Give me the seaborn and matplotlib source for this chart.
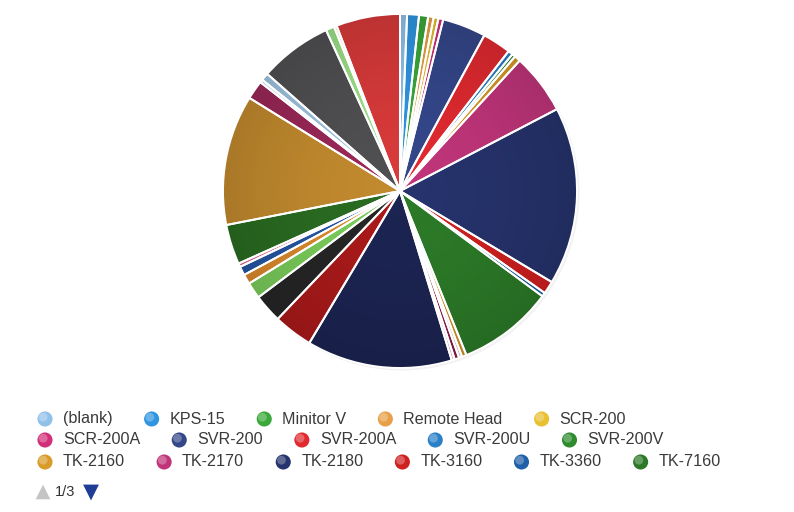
import numpy as np
import matplotlib
matplotlib.use("Agg")
import matplotlib.pyplot as plt
import seaborn as sns
from matplotlib.patches import Circle

# Model names (legend page 1 shows the first 16; the rest live on pages 2-3)
labels = [
    "(blank)", "KPS-15", "Minitor V", "Remote Head", "SCR-200",
    "SCR-200A", "SVR-200", "SVR-200A", "SVR-200U", "SVR-200V",
    "TK-2160", "TK-2170", "TK-2180", "TK-3160", "TK-3360", "TK-7160",
    "Model 17", "Model 18", "Model 19", "Model 20", "Model 21", "Model 22",
    "Model 23", "Model 24", "Model 25", "Model 26", "Model 27", "Model 28",
    "Model 29", "Model 30", "Model 31", "Model 32", "Model 33", "Model 34",
    "Model 35", "Model 36",
]

# Share of units per model (%)
shares = [
    0.64, 1.08, 0.83, 0.50, 0.44,
    0.44, 3.97, 2.61, 0.44, 0.31,
    0.56, 5.53, 16.25, 1.17, 0.36, 8.75,
    0.42, 0.28, 0.42, 0.28, 13.28, 3.58,
    2.61, 1.50, 0.89, 0.81, 0.33, 3.64,
    11.89, 1.72, 0.28, 0.69, 6.64, 0.78,
    0.25, 5.83,
]

colors = [
    "#8fc1e9", "#2f95e0", "#3aa83a", "#e8a048", "#e8c030",
    "#d0307a", "#34478a", "#e02a30", "#2a80c8", "#2e8b2e",
    "#d89a28", "#c0357a", "#26336c", "#d02020", "#2060a8", "#2c7a28",
    "#d4922e", "#d8d0c0", "#8e1e48", "#e8c8d8", "#1c2452", "#aa1a1a",
    "#262626", "#7acc5a", "#dc8a2c", "#2456a4", "#e070a0", "#2a6c22",
    "#c28a2e", "#9a2858", "#d4e2ee", "#9ec4e2", "#505052", "#9ce088",
    "#f2e2b0", "#d83a3a",
]

# Legend page 1 rows
legend_rows = [labels[0:5], labels[5:10], labels[10:16]]
page_text = "1/3"

sns.set_theme(style="white")
plt.rcParams["font.family"] = ["Liberation Sans", "DejaVu Sans"]

W, H = 794, 512
fig = plt.figure(figsize=(W / 100, H / 100), dpi=100)
fig.patch.set_facecolor("white")

# Pie axes: square, centred on the chart area
cx, cy, r = 400, 191, 177
pad = 1.04
side = 2 * r * pad
ax = fig.add_axes([(cx - side / 2) / W, (H - cy - side / 2) / H, side / W, side / H])
ax.set_xlim(-pad, pad)
ax.set_ylim(-pad, pad)
ax.set_aspect("equal")
ax.axis("off")

# faint shadow under the disc
ax.add_patch(Circle((0.010, -0.010), 1.004, color="#000000", alpha=0.05, zorder=0, lw=0))

wedges, _ = ax.pie(shares, colors=colors, startangle=90, counterclock=False,
                   radius=1.0, wedgeprops=dict(linewidth=0, antialiased=True))
for w in wedges:
    w.set_zorder(1)

# radial shading: slightly darker toward the rim
n = 500
yy, xx = np.mgrid[-pad:pad:n * 1j, -pad:pad:n * 1j]
rr = np.clip(np.hypot(xx, yy), 0, 1)
shade = np.zeros((n, n, 4))
shade[..., 3] = 0.13 * rr ** 1.8
im = ax.imshow(shade, extent=[-pad, pad, -pad, pad], origin="lower", zorder=2,
               interpolation="bilinear")
im.set_clip_path(Circle((0, 0), 1.0, transform=ax.transData))

# white separators on top
edges, _ = ax.pie(shares, colors=["none"] * len(shares), startangle=90,
                  counterclock=False, radius=1.0,
                  wedgeprops=dict(edgecolor="white", linewidth=1.4, fill=False))
for w in edges:
    w.set_zorder(3)
ax.set_xlim(-pad, pad)
ax.set_ylim(-pad, pad)

# Legend overlay in pixel coordinates
lax = fig.add_axes([0, 0, 1, 1])
lax.set_xlim(0, W)
lax.set_ylim(H, 0)
lax.axis("off")

fs = 11.6
renderer = fig.canvas.get_renderer()
row_y = [419, 440, 462]
x0 = 45
text_off = 18
gap = 39
k = 0
for row, y in zip(legend_rows, row_y):
    x = x0
    for name in row:
        col = colors[k]
        lax.scatter([x], [y], s=118, color=col, edgecolors="none", zorder=4)
        lax.scatter([x - 1.8], [y - 1.8], s=40, color="white", alpha=0.28,
                    edgecolors="none", zorder=5)
        t = lax.text(x + text_off, y, name, fontsize=fs, color="#3a3a3a",
                     va="center", ha="left")
        bb = t.get_window_extent(renderer=renderer)
        x = x + text_off + bb.width + gap
        k += 1

# pager
py = 492
lax.scatter([43], [py], marker="^", s=110, color="#c4c4c4", edgecolors="none")
lax.text(55, py, page_text, fontsize=10.5, color="#333333", va="center", ha="left")
lax.scatter([91], [py + 0.5], marker="v", s=130, color="#1f3c96", edgecolors="none")

fig.savefig("out.png", dpi=100, facecolor="white")
